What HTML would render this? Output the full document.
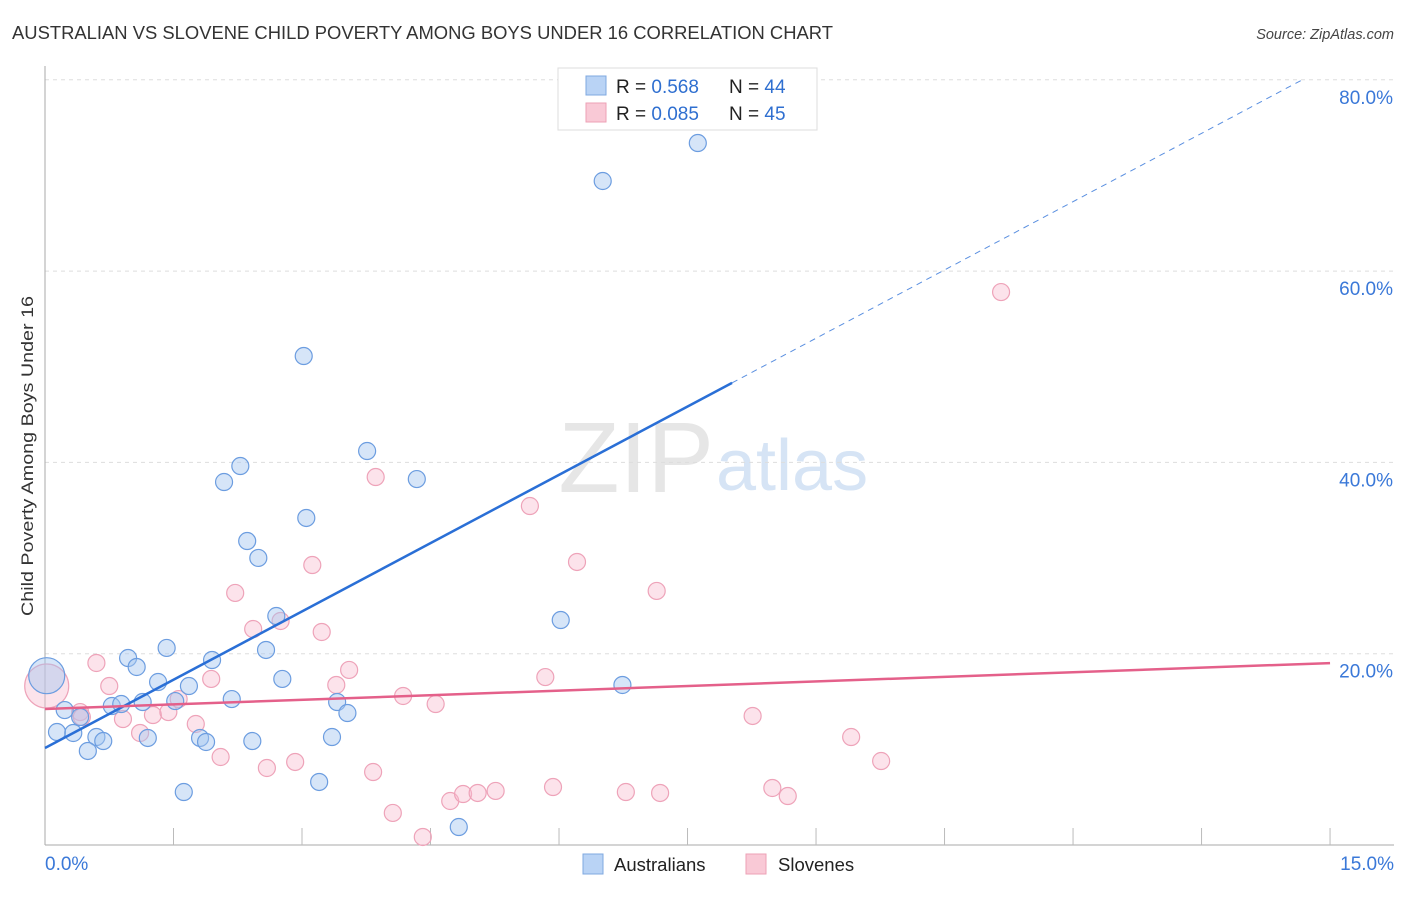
<!DOCTYPE html>
<html><head><meta charset="utf-8"><style>
body{margin:0;background:#fff;font-family:"Liberation Sans",sans-serif}
svg text{font-family:"Liberation Sans",sans-serif}
</style></head><body>
<svg id="chart" width="1406" height="892" xmlns="http://www.w3.org/2000/svg">
<text x="12" y="39" font-size="18" fill="#333" textLength="821" lengthAdjust="spacingAndGlyphs">AUSTRALIAN VS SLOVENE CHILD POVERTY AMONG BOYS UNDER 16 CORRELATION CHART</text>
<text x="1394" y="39" font-size="14.5" fill="#444" text-anchor="end" font-style="italic">Source: ZipAtlas.com</text>
<text x="714" y="492" font-size="100" text-anchor="end" fill="#e6e6e6" font-family="Liberation Serif">ZIP</text>
<text x="716" y="490" font-size="72" fill="#d6e4f5">atlas</text>
<text transform="translate(33,456) rotate(-90)" font-size="17" fill="#333" text-anchor="middle" textLength="320" lengthAdjust="spacingAndGlyphs">Child Poverty Among Boys Under 16</text>
<g id="grid"></g><g id="axes"></g><g id="marks"></g>
<g>
<rect x="558" y="68" width="259" height="62" fill="#fff" stroke="#ddd"/>
<rect x="586" y="76" width="20" height="19" fill="#b9d3f5" stroke="#7fa8e0"/>
<rect x="586" y="103" width="20" height="19" fill="#f9c9d6" stroke="#eda1b6"/>
<text x="616" y="93" font-size="19" fill="#222">R = <tspan fill="#2f6fd0">0.568</tspan></text>
<text x="729" y="93" font-size="19" fill="#222">N = <tspan fill="#2f6fd0">44</tspan></text>
<text x="616" y="120" font-size="19" fill="#222">R = <tspan fill="#2f6fd0">0.085</tspan></text>
<text x="729" y="120" font-size="19" fill="#222">N = <tspan fill="#2f6fd0">45</tspan></text>
</g>
<g>
<rect x="583" y="854" width="20" height="20" fill="#b9d3f5" stroke="#7fa8e0"/>
<text x="614" y="871" font-size="18.5" fill="#222">Australians</text>
<rect x="746" y="854" width="20" height="20" fill="#f9c9d6" stroke="#eda1b6"/>
<text x="778" y="871" font-size="18.5" fill="#222">Slovenes</text>
</g>
</svg>
<script>
const ausX=[0.02,0.23,0.41,0.14,0.33,0.60,0.68,0.50,0.97,1.07,0.78,0.89,1.14,1.32,1.42,1.68,1.52,1.20,1.95,1.81,1.88,2.18,2.42,2.58,2.70,2.77,1.62,3.35,3.41,3.53,3.20,3.02,2.28,2.09,2.36,2.49,3.05,3.76,4.34,6.51,7.62,6.02,6.74,4.83];
const ausY=[17.7,14.11,13.38,11.81,11.71,11.29,10.87,9.83,19.55,18.61,14.53,14.74,14.95,17.04,20.60,16.62,15.05,11.19,19.34,11.19,10.77,15.26,10.87,20.39,23.94,17.36,5.54,11.29,14.95,13.80,6.59,51.12,39.62,37.95,31.78,30.01,34.19,41.19,38.26,69.42,73.39,23.52,16.73,1.88];
const sloX=[0.02,2.22,2.43,2.75,3.23,0.60,0.75,1.94,1.56,0.41,0.43,0.91,1.26,1.44,1.11,1.76,2.05,2.59,2.92,3.40,3.55,4.18,3.83,4.06,4.41,3.86,5.66,6.21,7.14,11.16,5.84,4.56,8.26,9.41,9.76,5.93,6.78,7.18,8.49,8.67,4.73,4.88,5.05,5.26,3.12];
const sloY=[16.62,26.35,22.58,23.42,22.27,19.03,16.62,17.36,15.26,13.90,13.38,13.17,13.59,13.90,11.71,12.65,9.20,8.05,8.68,16.73,18.30,15.58,7.63,3.35,0.84,38.47,35.44,29.59,26.56,57.81,17.56,14.74,13.49,11.29,8.78,6.06,5.54,5.44,5.96,5.12,4.60,5.33,5.44,5.65,29.27];
const ausTrend=[10.14,4.76];
const sloTrend=[14.22,0.32];
const yTicks=[20,40,60,80];
const xTickLabels=["0.0%","15.0%"];
const NS="http://www.w3.org/2000/svg";
const sx=v=>45+v*85.67, sy=v=>845-v*9.565;
function mk(t,a,p){const e=document.createElementNS(NS,t);for(const k in a)e.setAttribute(k,a[k]);document.getElementById(p).appendChild(e);return e;}
yTicks.forEach(t=>{
 const l=mk('line',{x1:45,x2:1394,y1:sy(t),y2:sy(t),stroke:'#ddd','stroke-dasharray':'4,4'},'grid');
 
 
 const tx=mk('text',{x:1393,y:sy(t)+24,'font-size':19,fill:'#3a78d8','text-anchor':'end'},'grid');
 tx.textContent=t.toFixed(1)+'%';
 
 
});
const ax=mk('line',{x1:45,x2:45,y1:66,y2:845,stroke:'#aaa'},'axes');


const bx=mk('line',{x1:45,x2:1394,y1:845,y2:845,stroke:'#aaa'},'axes');


for(let i=1;i<=10;i++){const t=mk('line',{x1:sx(i*1.5),x2:sx(i*1.5),y1:828,y2:845,stroke:'#bbb'},'axes');
 
 }
[[0,'start',45],[15,'end',1394]].forEach((d,i)=>{const t=mk('text',{x:d[2],y:870,'font-size':19,fill:'#3a78d8','text-anchor':d[1]},'axes');t.textContent=xTickLabels[i];
 
 });
function pts(X,Y,fill,stroke,name,big){X.forEach((x,i)=>{const r=(i==0&&big)?big:8.5;
 const c=mk('circle',{cx:sx(x),cy:sy(Y[i]),r:r,fill:fill,stroke:stroke,'stroke-width':1.2},'marks');
 
 });}
pts(sloX,sloY,'rgba(248,185,205,0.4)','#eea3b9','slovene-point',22);
pts(ausX,ausY,'rgba(165,198,240,0.45)','#6c9de0','australian-point',18);
const a1=mk('line',{x1:sx(0),y1:sy(ausTrend[0]),x2:sx(8.02),y2:sy(ausTrend[0]+ausTrend[1]*8.02),stroke:'#2a6fd6','stroke-width':2.5},'marks');


const a2=mk('line',{x1:sx(8.02),y1:sy(ausTrend[0]+ausTrend[1]*8.02),x2:sx(14.7),y2:sy(ausTrend[0]+ausTrend[1]*14.7),stroke:'#5a8fe0','stroke-width':1,'stroke-dasharray':'6,5'},'marks');


const s1=mk('line',{x1:sx(0),y1:sy(sloTrend[0]),x2:sx(15),y2:sy(sloTrend[0]+sloTrend[1]*15),stroke:'#e4608a','stroke-width':2.5},'marks');


</script>
</body></html>
